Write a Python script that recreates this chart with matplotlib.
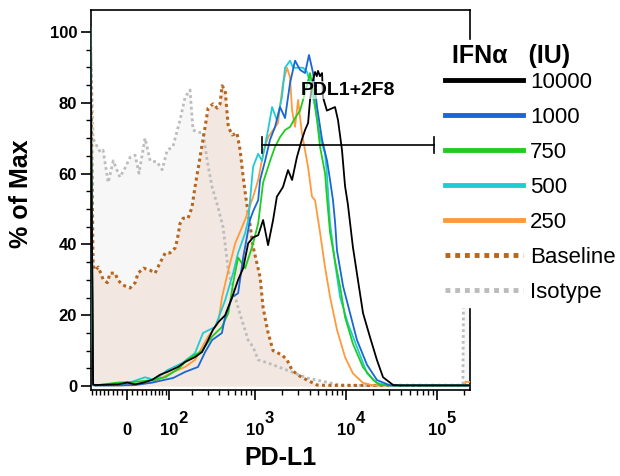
import matplotlib
matplotlib.use("Agg")
import matplotlib.pyplot as plt
import numpy as np
from matplotlib.lines import Line2D
from matplotlib.ticker import FixedLocator

plt.rcParams['font.family'] = ['Liberation Sans', 'DejaVu Sans']

# PD-L1 histograms (% of max), x in fluorescence units
black_x = [-86, -78, -72, -19, 0, 16, 34, 54, 74, 95, 133, 163, 214, 258, 303, 345, 393, 470, 565, 655,
           745, 845, 960, 1090, 1235, 1400, 1590, 1750, 2040, 2320, 2570, 2900, 3290, 3565, 3850, 4045,
           4370, 4590, 4800, 4950, 5200, 5480, 5620, 6190, 7606, 8200, 9070, 9791, 10500, 11940, 13570,
           15430, 18411, 21900, 25580, 33000, 39277, 230000]
black_y = [101, 0.5, 0.3, 0.5, 1, 0.5, 1, 1.8, 3.2, 4, 5.4, 6.8, 8.2, 9.6, 13, 16, 18, 20, 25.2, 30,
           33.3, 40.3, 42, 42.6, 46.9, 39.8, 46.9, 53.5, 56.2, 61, 58.2, 64.6, 69.6, 72.3, 74.3, 80.8,
           86.5, 88.7, 87.5, 89, 87.5, 88.4, 81.5, 77.8, 78.8, 75.1, 66.6, 56.5, 51.5, 39.3, 29.9,
           20.6, 13.8, 7.4, 2.5, 0.3, 0.2, 0.2]

blue_x = [-86, -78, -72, -15, 16, 54, 115, 163, 232, 280, 336, 433, 470, 565, 655, 745, 888, 960, 1090,
          1144, 1298, 1473, 1671, 1896, 2151, 2441, 2769, 3142, 3565, 3940, 4370, 4830, 5480, 6220, 6704,
          7220, 7606, 7990, 9320, 11110, 13240, 17070, 21960, 30510, 44563, 230000]
blue_y = [101, 0.3, 0.2, 0.2, 0.3, 1, 2.3, 4, 5.4, 9.6, 13, 15, 19.5, 25.2, 26.2, 36.3, 47, 49.4, 52.5,
          58.2, 63.6, 69.6, 73.2, 78.8, 75.7, 85.6, 91.9, 89.3, 88.4, 93.5, 88.4, 78.8, 69.6, 63.6, 58.2,
          52.5, 46.4, 38.3, 28.2, 20.6, 13, 6, 1.7, 0.2, 0.2, 0.2]

green_x = [-86, -78, -72, -19, 16, 54, 89, 137, 172, 258, 336, 433, 510, 578, 655, 783, 935, 1090, 1235,
           1473, 1671, 1896, 2151, 2441, 2769, 3142, 3565, 4045, 4370, 4830, 5207, 5908, 6190, 6704, 7606,
           8630, 9791, 11940, 15430, 19990, 23700, 30510, 230000]
green_y = [101, 0.3, 0.2, 1, 1.2, 1.7, 2.5, 5, 7.4, 10, 14, 16.7, 20.6, 29.2, 36.3, 33.3, 39.3, 45.9, 57.5,
           63.6, 67.6, 70.3, 72.3, 73.2, 75.7, 77.8, 82.8, 88.4, 83.6, 75.1, 67.6, 60.1, 53.5, 43.4, 35.3,
           28.2, 19.5, 12, 5.3, 1.7, 0.3, 0.2, 0.2]

cyan_x = [-86, -78, -72, -15, 5, 37, 61, 95, 150, 214, 265, 363, 470, 578, 655, 783, 850, 935, 960, 1090,
          1200, 1400, 1550, 1750, 1990, 2151, 2441, 2640, 2990, 3390, 3750, 4045, 4590, 5207, 5908, 6190,
          6704, 7606, 8630, 10500, 13240, 17070, 21960, 28250, 230000]
cyan_y = [101, 0.3, 0.2, 0.3, 1, 2.5, 1.7, 4.5, 6.5, 9.3, 15, 16.7, 24.2, 32, 37.6, 43.2, 47, 59, 62, 65.6,
          63.6, 72.3, 78.8, 75.1, 81.6, 89.9, 91.9, 89.9, 89.9, 89.9, 88.7, 85.6, 78.8, 70.3, 65.6, 60.1,
          46, 34.8, 25.2, 17.8, 11, 3.6, 0.9, 0.2, 0.2]

orange_x = [-86, -78, -72, -15, 54, 115, 163, 214, 303, 393, 435, 510, 608, 783, 960, 1090, 1235, 1400,
            1590, 1800, 2040, 2260, 2441, 2570, 2769, 2990, 3290, 3565, 3850, 4250, 4590, 5207, 5908, 6704,
            7990, 9791, 11940, 15430, 19990, 30510, 200000, 205000, 230000]
orange_y = [101, 0.3, 0.2, 0.2, 1, 4, 5.4, 7.4, 14, 17.8, 25.2, 32.7, 40.3, 47, 53.5, 58.2, 65.6, 70.3,
            72.3, 74.3, 85.6, 89.9, 87.2, 77.8, 73.2, 80.8, 71.5, 66.6, 61.8, 53.5, 52.5, 43.4, 33.6, 25.2,
            15.9, 8.2, 3.6, 0.9, 0.2, 0.2, 0.2, 1.2, 1.2]

base_x = [-86, -78, -72, -64, -52, -42, -36, -25, -19, -8.5, 5.7, 16, 22, 34, 49, 61, 74, 89, 104, 122,
          130, 141, 154, 177, 197, 214, 245, 280, 303, 345, 383, 413, 435, 470, 510, 565, 636, 690, 745,
          805, 888, 960, 1144, 1235, 1400, 1590, 1990, 2260, 2570, 2990, 3750, 4830, 6220, 8630, 230000]
base_y = [101, 34, 32.7, 33.6, 30.2, 29.2, 31.9, 31.9, 29.9, 28.5, 27.7, 29.2, 31.9, 33.3, 32.7, 31.9,
          34.8, 37.6, 37.6, 39, 41.3, 45.9, 47.4, 47.4, 50.4, 56.2, 64.6, 73.2, 78.5, 79.7, 78.5, 79.7,
          84.8, 83.6, 73.2, 70.9, 71.5, 66.6, 59, 52.5, 45.4, 39.3, 30.8, 22.1, 15.1, 10, 8.8, 7.4, 4.5,
          3.1, 1.7, 0.3, 0.2, 0.2, 0.2]

iso_x = [-86, -78, -72, -59, -52, -40, -29, -15, -4.5, 5.7, 16, 24, 37, 49, 66, 80, 95, 114, 141, 163,
         187, 203, 232, 266, 296, 336, 393, 446, 510, 655, 845, 960, 1090, 1410, 2260, 3750, 6220, 8630,
         14302, 23700, 192000, 202822, 230000]
iso_y = [101, 70, 68.6, 66.1, 66.6, 57.5, 63.6, 59, 61.6, 64.6, 65.2, 60.1, 70.0, 63.6, 63.3, 61.1, 66.6,
         67.6, 75.1, 81.6, 83.6, 72.3, 71.7, 71.5, 63.6, 56.2, 50.4, 44.9, 32.7, 22.1, 13, 11, 7.4, 6.5,
         4.5, 2.3, 1.1, 0.3, 0.2, 0.2, 0.2, 80, 80]

gate_x = [1200, 92700]
gate_y = 68.1

W = 80.0


def fwd(x):
    return np.arcsinh(np.asarray(x, dtype=float) / W)


def inv(v):
    return W * np.sinh(v)


fig = plt.figure(figsize=(6.2, 4.76), dpi=100)
ax = fig.add_axes([91 / 620, 1 - 390 / 476, 379 / 620, 380 / 476])
ax.set_xscale('function', functions=(fwd, inv))

ax.fill_between(iso_x, iso_y, color='#f7f7f7', lw=0, zorder=1)
ax.fill_between(base_x, base_y, color='#f3e8e1', lw=0, zorder=1.5)
ax.plot(iso_x, iso_y, color='#bcbcbc', lw=2.0, ls=(0, (1, 1.1)), zorder=2)
ax.plot(base_x, base_y, color='#b8651e', lw=2.2, ls=(0, (1, 1.1)), zorder=2)

curves = [(orange_x, orange_y, '#ff9a3c'), (cyan_x, cyan_y, '#20ccd4'),
          (green_x, green_y, '#1fcc1f'), (blue_x, blue_y, '#1966d6'),
          (black_x, black_y, 'black')]
for xs, ys, c in curves:
    ax.plot(xs, ys, color=c, lw=1.3, zorder=3)

# gate
ax.plot(gate_x, [gate_y, gate_y], color='black', lw=1.2, zorder=4)
for gx in gate_x:
    ax.plot([gx, gx], [gate_y - 2.3, gate_y + 2.3], color='black', lw=1.2, zorder=4)
ax.text(10560, 83.6, 'PDL1+2F8', ha='center', va='center', fontsize=14, fontweight='bold', zorder=5,
        bbox=dict(facecolor='white', edgecolor='none', alpha=0.6, pad=0.5))

ax.set_xlim(-84, 230000)
ax.set_ylim(-1.1, 106.2)

ax.set_xticks([0, 1e2, 1e3, 1e4, 1e5])
ax.set_xticklabels(['0', '10', '10', '10', '10'])
minor = [-80, -70, -60, -50, -40, -30, -20, -10, 10, 20, 30, 40, 50, 60, 70, 80, 90]
for d in [100, 1000, 10000, 100000]:
    minor += [k * d for k in range(2, 10) if k * d < 230000]
ax.xaxis.set_minor_locator(FixedLocator(minor))
ax.set_yticks(range(0, 101, 20))
ax.yaxis.set_minor_locator(FixedLocator([v for v in range(5, 100, 5) if v % 20]))

ax.tick_params(axis='x', which='major', length=7, width=1.2, pad=17, labelsize=12)
ax.tick_params(axis='x', which='minor', length=3.5, width=1.0)
ax.tick_params(axis='y', which='major', length=7, width=1.2, pad=3, labelsize=12)
ax.tick_params(axis='y', which='minor', length=3.5, width=1.0)
for lbl in ax.get_xticklabels() + ax.get_yticklabels():
    lbl.set_fontweight('bold')
for e in [2, 3, 4, 5]:
    ax.annotate(str(e), xy=(10 ** e, 0), xycoords=('data', 'axes fraction'), xytext=(7, -23.5),
                textcoords='offset points', ha='left', va='baseline', fontsize=12, fontweight='bold',
                annotation_clip=False)

for s in ax.spines.values():
    s.set_linewidth(1.2)

ax.set_xlabel('PD-L1', fontsize=18, fontweight='bold')
ax.set_ylabel('% of Max', fontsize=18, fontweight='bold')
ax.xaxis.set_label_coords(0.5, -0.148)
ax.yaxis.set_label_coords(-0.153, 0.516)

handles = [Line2D([], [], color='black', lw=3.5), Line2D([], [], color='#1966d6', lw=3.5),
           Line2D([], [], color='#1fcc1f', lw=3.5), Line2D([], [], color='#20ccd4', lw=3.5),
           Line2D([], [], color='#ff9a3c', lw=3.5),
           Line2D([], [], color='#b8651e', lw=3.5, ls=(0, (1, 1))),
           Line2D([], [], color='#bcbcbc', lw=3.5, ls=(0, (1, 1)))]
labels = ['10000', '1000', '750', '500', '250', 'Baseline', 'Isotype']
leg = fig.legend(handles, labels, loc='upper left', bbox_to_anchor=(441 / 620, 1 - 40 / 476),
                 frameon=True, facecolor='white', edgecolor='white', framealpha=1, fancybox=False,
                 borderpad=0.2, borderaxespad=0, handlelength=3.5, handletextpad=0.3,
                 labelspacing=0.63, fontsize=16, title=' IFNα   (IU)',
                 title_fontproperties={'weight': 'bold', 'size': 18}, alignment='left')
leg._legend_box.sep = 0.16 * 16  # tighter gap between title and entries

fig.savefig('out.png', dpi=100)
